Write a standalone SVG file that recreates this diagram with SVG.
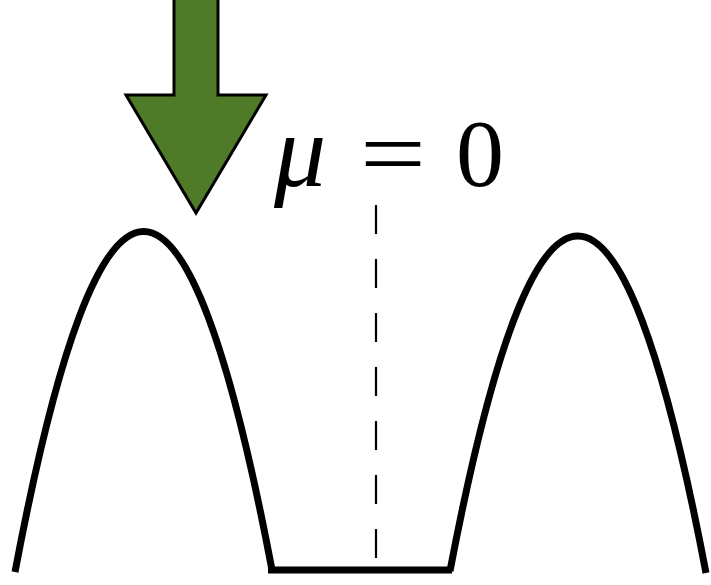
<svg xmlns="http://www.w3.org/2000/svg" width="711" height="585" viewBox="0 0 711 585">
<style>
.curve{fill:none;stroke:#000;stroke-width:7;stroke-linecap:butt}
.dash{fill:none;stroke:#000;stroke-width:2.2;stroke-dasharray:29 25}
.arrow{fill:#4f7a28;stroke:#000;stroke-width:3;stroke-linejoin:miter}
</style>
<rect width="711" height="585" fill="#fff"/>
<g id="arrow">
<polygon class="arrow" points="174,-5 218,-5 218,95 266,95 196,213 126,95 174,95"/>
</g>
<g id="label">
<text x="274" y="186" font-family="Liberation Serif" font-size="104" font-style="italic">μ</text>
<text x="360" y="186" font-family="Liberation Serif" font-size="96" textLength="66" lengthAdjust="spacingAndGlyphs">=</text>
<text x="456" y="186" font-family="Liberation Serif" font-size="96">0</text>
</g>
<g id="well">
<path class="curve" d="M15,572 Q143.5,-108 272,570"/>
<path class="curve" d="M450,571 Q578,-100 706,573"/>
<path class="curve" d="M268,570 H452"/>
</g>
<g id="connectors">
<path class="dash" d="M376,205 V558"/>
</g>
</svg>
